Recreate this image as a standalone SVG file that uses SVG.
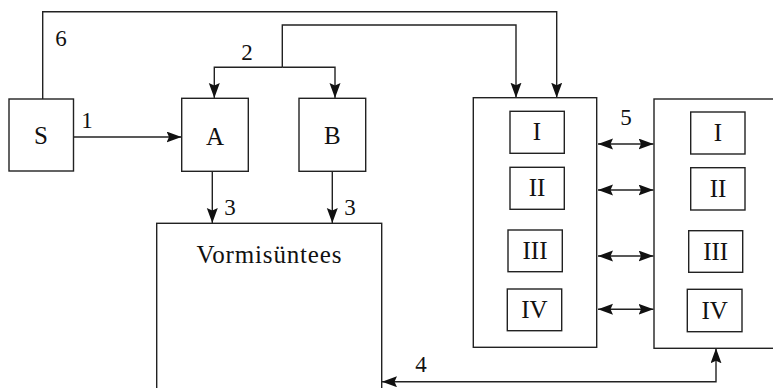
<svg xmlns="http://www.w3.org/2000/svg" width="773" height="388" viewBox="0 0 773 388">
<defs>
<style>
.box{fill:#fff;stroke:#222;stroke-width:1.4}
.ln{fill:none;stroke:#222;stroke-width:1.4}
.t{font-family:"Liberation Serif","Times New Roman",serif;fill:#111;text-anchor:middle}
.n{font-size:25px}
.num{font-size:23px}
</style>
<marker id="ah" markerUnits="userSpaceOnUse" markerWidth="16" markerHeight="12" refX="15" refY="5.5" orient="auto-start-reverse">
<path d="M0,0 L15,5.5 L0,11 L2.5,5.5 z" fill="#111"/>
</marker>
</defs>
<rect width="773" height="388" fill="#fff"/>
<g id="connectors">
<polyline class="ln" points="42.7,99 42.7,11.7 556.7,11.7 556.7,97.7" marker-end="url(#ah)"/>
<polyline class="ln" points="282.3,67.3 282.3,25 516,25 516,97.7" marker-end="url(#ah)"/>
<polyline class="ln" points="282.3,67.3 214.3,67.3 214.3,98" marker-end="url(#ah)"/>
<polyline class="ln" points="282.3,67.3 335,67.3 335,98" marker-end="url(#ah)"/>
<line class="ln" x1="73.5" y1="137" x2="181.5" y2="137" marker-end="url(#ah)"/>
<line class="ln" x1="212.3" y1="171.3" x2="212.3" y2="223" marker-end="url(#ah)"/>
<line class="ln" x1="332.3" y1="171.3" x2="332.3" y2="223" marker-end="url(#ah)"/>
<polyline class="ln" points="716,348.3 716,381.7 382,381.7" marker-start="url(#ah)" marker-end="url(#ah)"/>
<line class="ln" x1="598" y1="144" x2="653.5" y2="144" marker-start="url(#ah)" marker-end="url(#ah)"/>
<line class="ln" x1="598" y1="190" x2="653.5" y2="190" marker-start="url(#ah)" marker-end="url(#ah)"/>
<line class="ln" x1="598" y1="256" x2="653.5" y2="256" marker-start="url(#ah)" marker-end="url(#ah)"/>
<line class="ln" x1="598" y1="309.3" x2="653.5" y2="309.3" marker-start="url(#ah)" marker-end="url(#ah)"/>
<text class="t num" x="61" y="46">6</text>
<text class="t num" x="247" y="60">2</text>
<text class="t num" x="87" y="128">1</text>
<text class="t num" x="230" y="215">3</text>
<text class="t num" x="350" y="215">3</text>
<text class="t num" x="421" y="372">4</text>
<text class="t num" x="626" y="125">5</text>
</g>
<g id="S"><rect class="box" x="9" y="99" width="64.5" height="72"/><text class="t n" x="41" y="144">S</text></g>
<g id="A"><rect class="box" x="181.7" y="98.3" width="66.6" height="73"/><text class="t n" x="215" y="145">A</text></g>
<g id="B"><rect class="box" x="299" y="98.3" width="66.7" height="73"/><text class="t n" x="332.3" y="144">B</text></g>
<g id="vormisuntees"><rect class="box" x="156.7" y="223.3" width="225" height="180"/><text class="t n" x="269" y="263" textLength="145" lengthAdjust="spacing">Vormisüntees</text></g>
<g id="left-block">
<rect class="box" x="473.3" y="97.7" width="123.4" height="249.6"/>
<g id="L-I"><rect class="box" x="510" y="111.3" width="54.3" height="42"/><text class="t n" x="537" y="140">I</text></g>
<g id="L-II"><rect class="box" x="510" y="167.3" width="54.3" height="42"/><text class="t n" x="537" y="196">II</text></g>
<g id="L-III"><rect class="box" x="508" y="230" width="54.3" height="41.7"/><text class="t n" x="535" y="259">III</text></g>
<g id="L-IV"><rect class="box" x="507.3" y="289" width="54.4" height="41.7"/><text class="t n" x="534.5" y="318">IV</text></g>
</g>
<g id="right-block">
<rect class="box" x="654" y="99" width="140" height="249.3"/>
<g id="R-I"><rect class="box" x="690.7" y="112" width="54.3" height="42"/><text class="t n" x="718" y="141">I</text></g>
<g id="R-II"><rect class="box" x="690.7" y="167.7" width="54.3" height="42.3"/><text class="t n" x="718" y="197">II</text></g>
<g id="R-III"><rect class="box" x="688.7" y="230.7" width="54" height="41.6"/><text class="t n" x="715.7" y="260">III</text></g>
<g id="R-IV"><rect class="box" x="687.3" y="289.3" width="54.7" height="42.4"/><text class="t n" x="714.7" y="319">IV</text></g>
</g>
</svg>
